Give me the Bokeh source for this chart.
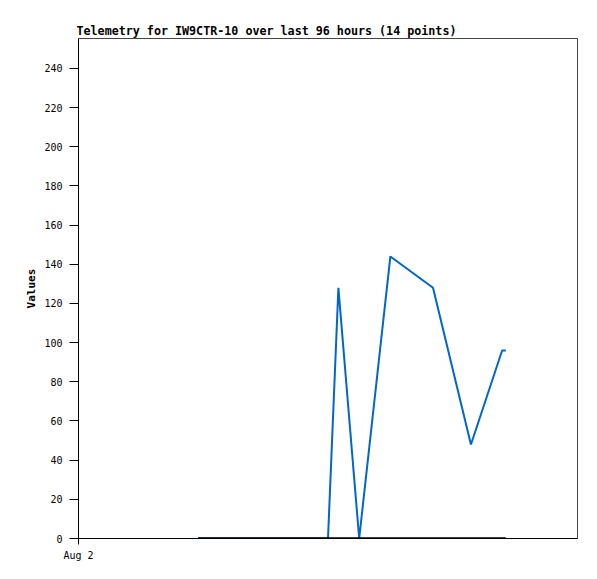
from bokeh.plotting import figure
from bokeh.models import FixedTicker, Range1d
from bokeh.embed import file_html
from bokeh.resources import INLINE

# hours since Aug 2 00:00
hours = [23.0, 28.0, 33.0, 38.0, 43.0, 46.0, 48.0, 50.0, 54.0, 60.0, 68.2, 75.5, 81.5, 82.2]
values = [0, 0, 0, 0, 0, 0, 0, 128, 0, 144, 128, 48, 96, 96]
baseline = [0, 0, 0, 0, 0, 0, 0, 0, 0, 0, 0, 0, 0, 0]
y_ticks = list(range(0, 241, 20))
x_ticks = [0]
x_labels = {0: "Aug 2"}

p = figure(width=590, height=570, output_backend="svg", toolbar_location=None,
           title="Telemetry for IW9CTR-10 over last 96 hours (14 points)",
           x_range=Range1d(0, 96), y_range=Range1d(0, 255.3),
           min_border_left=78, min_border_right=13, min_border_top=38, min_border_bottom=32)

p.line(hours, values, line_color="#0066cc", line_width=2)
p.line(hours, baseline, line_color="#000000", line_width=2.5)

p.title.text_font = "DejaVu Sans Mono"
p.title.text_font_size = "11.7px"
p.title.text_font_style = "bold"
p.title.text_color = "black"
p.title.offset = -2
p.title.standoff = 2

p.xgrid.visible = False
p.ygrid.visible = False
p.outline_line_color = "#444444"
p.outline_line_width = 1

p.yaxis.ticker = FixedTicker(ticks=y_ticks)
p.yaxis.minor_tick_line_color = None
p.yaxis.major_tick_out = 9
p.yaxis.major_tick_in = 0
p.yaxis.axis_label = "Values"
p.yaxis.axis_label_text_font = "DejaVu Sans Mono"
p.yaxis.axis_label_text_font_style = "bold"
p.yaxis.axis_label_text_font_size = "11px"
p.yaxis.axis_label_text_color = "black"
p.yaxis.major_label_text_font = "DejaVu Sans Mono"
p.yaxis.major_label_text_font_size = "10px"
p.yaxis.major_label_standoff = 7
p.yaxis.axis_label_standoff = 3

p.xaxis.ticker = FixedTicker(ticks=x_ticks)
p.xaxis.major_label_overrides = x_labels
p.xaxis.minor_tick_line_color = None
p.xaxis.major_tick_out = 6
p.xaxis.major_tick_in = 0
p.xaxis.major_label_text_font = "DejaVu Sans Mono"
p.xaxis.major_label_text_font_size = "10px"
p.xaxis.major_label_standoff = 5

for ax in (p.xaxis, p.yaxis):
    ax.axis_line_color = "black"
    ax.major_tick_line_color = "black"
    ax.major_label_text_color = "black"

open("out.html", "w").write(file_html(p, INLINE))
